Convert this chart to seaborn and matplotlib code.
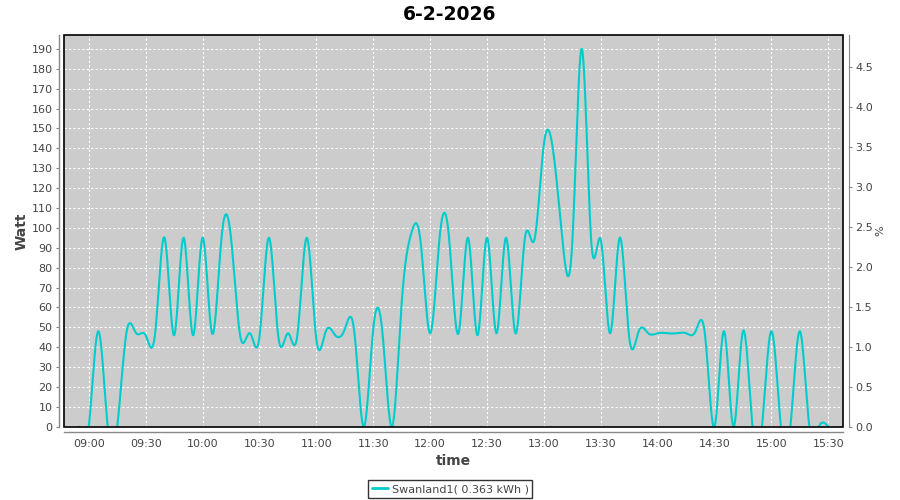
import numpy as np
import pandas as pd
import matplotlib
matplotlib.use("Agg")
import matplotlib.pyplot as plt
import matplotlib.dates as mdates
from matplotlib.patches import Rectangle
from matplotlib.ticker import FixedLocator, FormatStrFormatter
import seaborn as sns

# ---------------- data ----------------
title = "6-2-2026"
day = "2026-02-06"
series_name = "Swanland1( 0.363 kWh )"

times = ["08:55", "09:00", "09:05", "09:10", "09:15", "09:20", "09:25", "09:30",
         "09:35", "09:40", "09:45", "09:50", "09:55", "10:00", "10:05", "10:10",
         "10:15", "10:20", "10:25", "10:30", "10:35", "10:40", "10:45", "10:50",
         "10:55", "11:00", "11:05", "11:10", "11:15", "11:20", "11:25", "11:30",
         "11:35", "11:40", "11:45", "11:50", "11:55", "12:00", "12:05", "12:10",
         "12:15", "12:20", "12:25", "12:30", "12:35", "12:40", "12:45", "12:50",
         "12:55", "13:00", "13:05", "13:10", "13:15", "13:20", "13:25", "13:30",
         "13:35", "13:40", "13:45", "13:50", "13:55", "14:00", "14:05", "14:10",
         "14:15", "14:20", "14:25", "14:30", "14:35", "14:40", "14:45", "14:50",
         "14:55", "15:00", "15:05", "15:10", "15:15", "15:20", "15:25", "15:30"]
watts = [0, 0, 48, 0, 0, 48, 47, 46,
         47, 95, 46, 95, 46, 95, 47, 95,
         95, 45, 47, 45, 95, 45, 47, 46,
         95, 44, 48, 46, 49, 48, 0, 49,
         46, 0, 62, 97, 93, 47, 95, 95,
         47, 95, 46, 95, 47, 95, 47, 95,
         94, 142, 138, 92, 93, 190, 93, 94,
         47, 95, 45, 48, 47, 47, 47, 47,
         47, 48, 46, 0, 48, 0, 48, 0,
         0, 48, 0, 0, 48, 0, 0, 0]

watt_ticks = list(range(0, 200, 10))
pct_ticks = [0.0, 0.5, 1.0, 1.5, 2.0, 2.5, 3.0, 3.5, 4.0, 4.5]
x_start, x_end = "08:47", "15:38"
watt_max = 197
pct_max = 4.9


# natural cubic spline (same kind of curve as the original spline renderer)
def natural_spline(x, y, xs):
    x = np.asarray(x, float)
    y = np.asarray(y, float)
    n = len(x)
    h = np.diff(x)
    A = np.zeros((n, n))
    r = np.zeros(n)
    A[0, 0] = 1.0
    A[-1, -1] = 1.0
    for i in range(1, n - 1):
        A[i, i - 1] = h[i - 1]
        A[i, i] = 2 * (h[i - 1] + h[i])
        A[i, i + 1] = h[i]
        r[i] = 3 * ((y[i + 1] - y[i]) / h[i] - (y[i] - y[i - 1]) / h[i - 1])
    c = np.linalg.solve(A, r)
    b = (y[1:] - y[:-1]) / h - h * (2 * c[:-1] + c[1:]) / 3
    d = (c[1:] - c[:-1]) / (3 * h)
    idx = np.clip(np.searchsorted(x, xs, side="right") - 1, 0, n - 2)
    dx = xs - x[idx]
    return y[idx] + b[idx] * dx + c[idx] * dx ** 2 + d[idx] * dx ** 3


t = pd.to_datetime([f"{day} {s}" for s in times])
t0 = t[0]
mins = np.asarray((t - t0) / pd.Timedelta(minutes=1), float)
fine = np.linspace(mins[0], mins[-1], 4000)
curve = natural_spline(mins, watts, fine)
fine_t = mdates.date2num(t0 + pd.to_timedelta(fine, unit="m"))
df = pd.DataFrame({"time": fine_t, "watt": curve})

# ---------------- plot ----------------
sns.set_style("white")
plt.rcParams["font.family"] = ["DejaVu Sans"]

fig = plt.figure(figsize=(9, 5), dpi=100)
fig.patch.set_facecolor("white")
ax = fig.add_axes([64.3 / 900, 1 - 426.7 / 500, (843.3 - 64.3) / 900, (426.7 - 35) / 500])
ax.set_facecolor("#CCCCCC")

line_color = "#00CCCC"
sns.lineplot(data=df, x="time", y="watt", ax=ax, color=line_color,
             linewidth=1.5, sort=False, estimator=None, zorder=3)

ax.set_xlim(mdates.date2num(pd.Timestamp(f"{day} {x_start}")) + 0.1 / 1440,
            mdates.date2num(pd.Timestamp(f"{day} {x_end}")) - 0.1 / 1440)
ax.set_ylim(0, watt_max)
ax.xaxis.set_major_locator(mdates.MinuteLocator(byminute=[0, 30]))
ax.xaxis.set_major_formatter(mdates.DateFormatter("%H:%M"))
ax.yaxis.set_major_locator(FixedLocator(watt_ticks))

ax.grid(True, color="white", linestyle=(0, (2, 2)), linewidth=0.8)
ax.set_axisbelow(True)

axis_col = "#888888"
text_col = "#444444"
for s in ["top", "right"]:
    ax.spines[s].set_visible(False)
for s in ["left", "bottom"]:
    ax.spines[s].set_position(("outward", 4))
    ax.spines[s].set_color(axis_col)
    ax.spines[s].set_linewidth(1.0)
ax.tick_params(axis="both", direction="out", length=2.5, width=0.8,
               color=axis_col, labelcolor=text_col, labelsize=8, pad=2)

ax.set_xlabel("time", fontsize=10, fontweight="bold", color=text_col, labelpad=4)
ax.set_ylabel("Watt", fontsize=10, fontweight="bold", color=text_col, labelpad=2)

ax.add_patch(Rectangle((0, 0), 1, 1, transform=ax.transAxes, fill=False,
                       edgecolor="black", linewidth=1.2, zorder=6, clip_on=False))

ax2 = ax.twinx()
ax2.patch.set_visible(False)
ax2.set_ylim(0, pct_max)
ax2.yaxis.set_major_locator(FixedLocator(pct_ticks))
ax2.yaxis.set_major_formatter(FormatStrFormatter("%.1f"))
for s in ["top", "left", "bottom"]:
    ax2.spines[s].set_visible(False)
ax2.spines["right"].set_position(("outward", 4))
ax2.spines["right"].set_color(axis_col)
ax2.tick_params(axis="y", direction="out", length=2.5, width=0.8,
                color=axis_col, labelcolor=text_col, labelsize=8, pad=2)
ax2.set_ylabel("%", fontsize=8, color=text_col, labelpad=2)
ax2.grid(False)

fig.suptitle(title, fontsize=13.5, fontweight="bold", color="black", y=0.97, va="center")

handle = plt.Line2D([], [], color=line_color, linewidth=2)
leg = fig.legend([handle], [series_name], loc="lower center",
                 bbox_to_anchor=(0.5, 0.004), frameon=True, fancybox=False,
                 edgecolor="black", fontsize=8, handlelength=1.5,
                 handletextpad=0.3, borderpad=0.35, borderaxespad=0)
leg.get_frame().set_linewidth(1.0)
for txt in leg.get_texts():
    txt.set_color(text_col)

fig.savefig("out.png", dpi=100, facecolor="white")
